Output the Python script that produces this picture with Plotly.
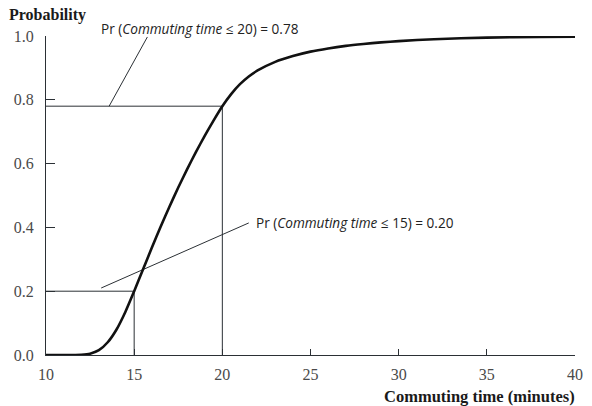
import plotly.graph_objects as go

# CDF of commuting time
minutes = [10, 11, 12, 12.5, 13, 13.5, 14, 14.5, 15, 15.5, 16, 16.5, 17, 17.5, 18, 18.5,
           19, 19.5, 20, 20.5, 21, 21.5, 22, 23, 24, 25, 26, 27, 28, 29, 30, 32, 35, 38, 40]
cdf = [0.0, 0.0, 0.001, 0.004, 0.015, 0.04, 0.08, 0.135, 0.20, 0.268, 0.336, 0.402,
       0.465, 0.525, 0.582, 0.636, 0.687, 0.735, 0.78, 0.818, 0.849, 0.873, 0.892, 0.919,
       0.937, 0.951, 0.961, 0.969, 0.975, 0.980, 0.984, 0.990, 0.995, 0.997, 0.998]

cutoffs = [15, 20]
cut_probs = [0.20, 0.78]
ann_texts = ["Pr (<i>Commuting time</i> ≤ 15) = 0.20",
             "Pr (<i>Commuting time</i> ≤ 20) = 0.78"]
label_x = [21.8, 13.02]
label_y = [0.415, 1.022]
# leader lines: start (near label) -> end (near reference line)
leader_from = [(21.5, 0.414), (15.75, 0.997)]
leader_to = [(13.13, 0.21), (13.58, 0.78)]

x_ticks = [10, 15, 20, 25, 30, 35, 40]
y_ticks = [0.0, 0.2, 0.4, 0.6, 0.8, 1.0]

line_col = "#2b3035"
fig = go.Figure()

for c, p in zip(cutoffs, cut_probs):
    fig.add_trace(go.Scatter(x=[10, c, c], y=[p, p, 0], mode="lines",
                             line=dict(color=line_col, width=1), hoverinfo="skip"))

for (x0, y0), (x1, y1) in zip(leader_from, leader_to):
    fig.add_trace(go.Scatter(x=[x0, x1], y=[y0, y1], mode="lines", cliponaxis=False,
                             line=dict(color=line_col, width=1), hoverinfo="skip"))

fig.add_trace(go.Scatter(x=minutes, y=cdf, mode="lines",
                         line=dict(color="#111111", width=2.6, shape="spline", smoothing=0.6)))

for t, lx, ly in zip(ann_texts, label_x, label_y):
    fig.add_annotation(x=lx, y=ly, xref="x", yref="paper", text=t, showarrow=False,
                       xanchor="left", yanchor="middle",
                       font=dict(family="Open Sans", size=13.6, color="#222222"))

fig.add_annotation(x=-0.073, y=1.066, xref="paper", yref="paper", xanchor="left", yanchor="middle",
                   text="<b>Probability</b>", showarrow=False,
                   font=dict(family="Liberation Serif", size=16, color="#1a1a1a"))
fig.add_annotation(x=1.004, y=-0.13, xref="paper", yref="paper", xanchor="right", yanchor="middle",
                   text="<b>Commuting time (minutes)</b>", showarrow=False,
                   font=dict(family="Liberation Serif", size=16.5, color="#1a1a1a"))

fig.update_layout(
    width=592, height=406, showlegend=False,
    paper_bgcolor="white", plot_bgcolor="white",
    margin=dict(l=46, r=9, t=36, b=51),
    xaxis=dict(range=[10, 40], tickvals=x_ticks, ticktext=[str(v) for v in x_ticks],
               showgrid=False, zeroline=False, showline=True, linecolor=line_col, linewidth=1,
               ticks="inside", ticklen=6, tickcolor=line_col, ticklabelstandoff=5,
               tickfont=dict(family="Liberation Serif", size=16, color="#4a4a4a")),
    yaxis=dict(range=[0, 1], tickvals=y_ticks, ticktext=[f"{v:.1f}" for v in y_ticks],
               showgrid=False, zeroline=False, showline=True, linecolor=line_col, linewidth=1,
               ticks="inside", ticklen=9, tickcolor=line_col, ticklabelstandoff=8,
               tickfont=dict(family="Liberation Serif", size=16, color="#4a4a4a")),
)

fig.write_html("out.html", config={"displayModeBar": False},
               post_script="document.body.style.margin='0';")
